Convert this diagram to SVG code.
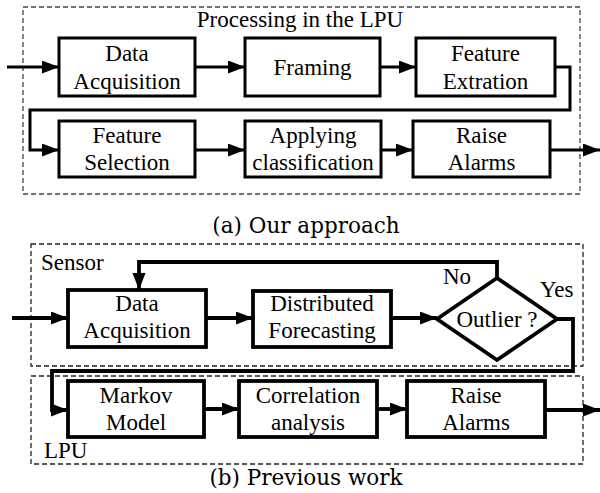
<svg xmlns="http://www.w3.org/2000/svg" width="600" height="493" viewBox="0 0 600 493">
<style>
.box{fill:#fff;stroke:#000;stroke-width:3}
.box2{fill:#fff;stroke:#000;stroke-width:3.8}
.dash{fill:none;stroke:#444;stroke-width:1.3;stroke-dasharray:5 3}
.t{font-size:23px;fill:#000;text-anchor:middle}
.l{font-size:23px;fill:#000}
.cap{font-size:21.5px;fill:#000;text-anchor:middle}
.c{fill:none;stroke:#000;stroke-width:3}
.c2{fill:none;stroke:#000;stroke-width:3.8}
</style>
<defs>
<marker id="ah" markerUnits="userSpaceOnUse" markerWidth="18" markerHeight="14" refX="17" refY="6.5" orient="auto">
<path d="M0,0 L17,6.5 L0,13 z" fill="#000"/>
</marker>
</defs>
<g font-family="Liberation Serif, Times New Roman, Tinos, serif">
<rect class="dash" x="23" y="7" width="557" height="187"/>
<text class="t" x="300" y="27">Processing in the LPU</text>
<g id="n1"><rect class="box" x="59" y="38" width="136" height="58"/><text class="t" x="127" y="60.5">Data</text><text class="t" x="127" y="88.5">Acquisition</text></g>
<g id="n2"><rect class="box" x="245" y="38" width="135" height="58"/><text class="t" x="312.5" y="75">Framing</text></g>
<g id="n3"><rect class="box" x="416" y="38" width="139" height="58"/><text class="t" x="485.5" y="60.5">Feature</text><text class="t" x="485.5" y="88.5">Extration</text></g>
<g id="n4"><rect class="box" x="59" y="121" width="136" height="56"/><text class="t" x="127" y="142.5">Feature</text><text class="t" x="127" y="170">Selection</text></g>
<g id="n5"><rect class="box" x="245" y="121" width="136" height="56"/><text class="t" x="313" y="142.5">Applying</text><text class="t" x="313" y="170">classification</text></g>
<g id="n6"><rect class="box" x="413" y="121" width="137" height="56"/><text class="t" x="481.5" y="142.5">Raise</text><text class="t" x="481.5" y="170">Alarms</text></g>
<g id="connectors-a">
<path class="c" d="M7,67 H59" marker-end="url(#ah)"/>
<path class="c" d="M195,67 H245" marker-end="url(#ah)"/>
<path class="c" d="M380,67 H416" marker-end="url(#ah)"/>
<path class="c" d="M555,67 H570 V110 H30 V150 H59" marker-end="url(#ah)"/>
<path class="c" d="M195,150 H245" marker-end="url(#ah)"/>
<path class="c" d="M381,150 H413" marker-end="url(#ah)"/>
<path class="c" d="M550,150 H600" marker-end="url(#ah)"/>
</g>
<text class="cap" x="306" y="233" font-family="DejaVu Serif, serif">(a) Our approach</text>
<rect class="dash" x="31" y="244" width="552" height="122" style="stroke:#222"/>
<rect class="dash" x="31" y="376" width="552" height="88" style="stroke:#222"/>
<text class="l" x="41" y="270">Sensor</text>
<text class="l" x="44" y="458">LPU</text>
<g id="m1"><rect class="box2" x="68" y="290" width="138" height="57"/><text class="t" x="137" y="311">Data</text><text class="t" x="137" y="338">Acquisition</text></g>
<g id="m2"><rect class="box2" x="253" y="291" width="138" height="56"/><text class="t" x="322" y="311">Distributed</text><text class="t" x="322" y="338">Forecasting</text></g>
<g id="m3"><polygon class="box2" points="437,319 497,278 557,319 497,360"/><text class="t" x="497" y="327">Outlier ?</text></g>
<g id="m4"><rect class="box2" x="68" y="381" width="136" height="56"/><text class="t" x="136" y="403">Markov</text><text class="t" x="136" y="430">Model</text></g>
<g id="m5"><rect class="box2" x="239" y="381" width="138" height="56"/><text class="t" x="308" y="403">Correlation</text><text class="t" x="308" y="430">analysis</text></g>
<g id="m6"><rect class="box2" x="407" y="381" width="138" height="56"/><text class="t" x="476" y="403">Raise</text><text class="t" x="476" y="430">Alarms</text></g>
<g id="connectors-b">
<path class="c2" d="M12,318 H68" marker-end="url(#ah)"/>
<path class="c2" d="M206,318 H253" marker-end="url(#ah)"/>
<path class="c2" d="M391,318 H437" marker-end="url(#ah)"/>
<path class="c2" d="M497,278 V262 H139 V290" marker-end="url(#ah)"/>
<path class="c2" d="M557,319 H573 V371 H52 V410 H68" marker-end="url(#ah)"/>
<path class="c2" d="M204,409 H239" marker-end="url(#ah)"/>
<path class="c2" d="M377,409 H407" marker-end="url(#ah)"/>
<path class="c2" d="M545,410 H600" marker-end="url(#ah)"/>
</g>
<text class="l" x="443" y="284">No</text>
<text class="l" x="540" y="297">Yes</text>
<text class="cap" x="306" y="485" font-family="DejaVu Serif, serif">(b) Previous work</text>
</g>
</svg>
